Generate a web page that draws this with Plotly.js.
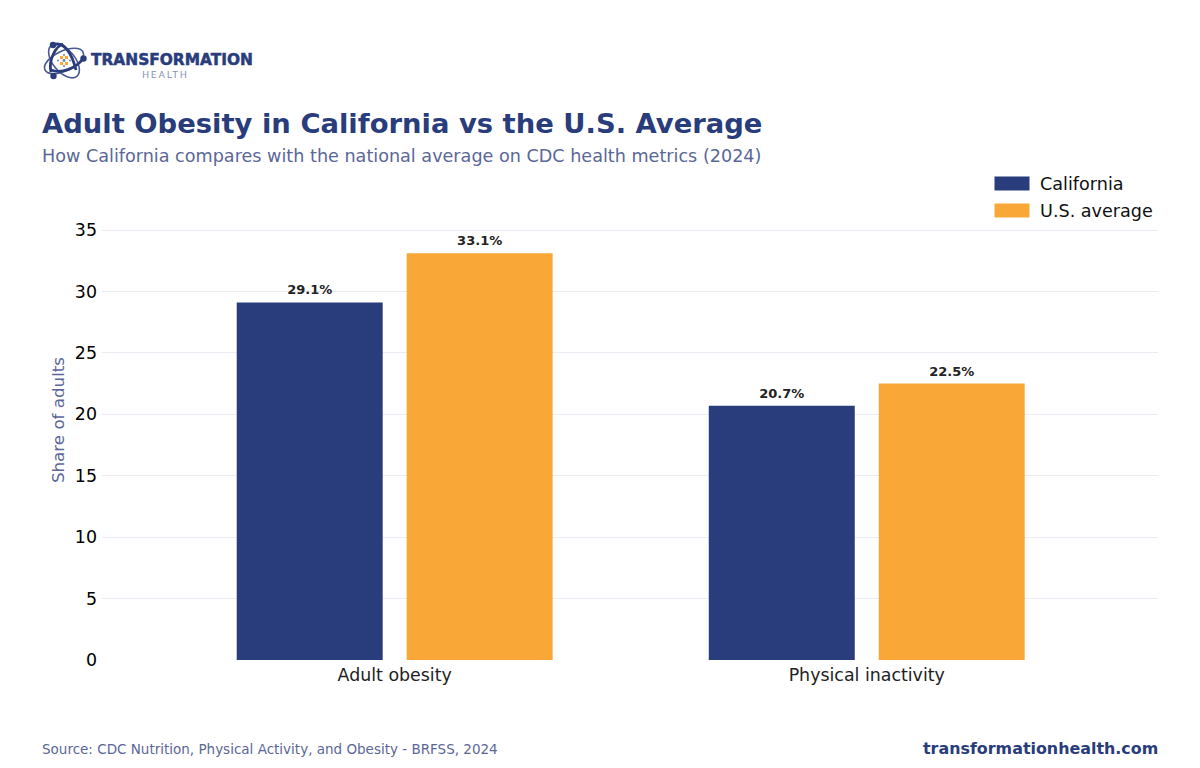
<!DOCTYPE html>
<html><head><meta charset="utf-8">
<script src="https://cdn.plot.ly/plotly-3.0.1.min.js"></script>
<style>html,body{margin:0;padding:0;background:#fff}#c{width:1200px;height:768px;position:relative}
#logo{position:absolute;left:40px;top:38px;width:50px;height:46px;z-index:5;pointer-events:none}</style>
</head><body><div id="c">
<svg id="logo" viewBox="0 0 50 46">
<g fill="none" stroke="#4a5a91" stroke-width="1.6">
<ellipse cx="24" cy="23" rx="21" ry="10" transform="rotate(-25 24 23)" />
<ellipse cx="24" cy="23" rx="20" ry="11" transform="rotate(50 24 23)" />
</g>
<g fill="none" stroke="#2a3c7b" stroke-width="2.8">
<path d="M13 7 C24 2 32 16 36 32"/><path d="M11 34 C8 22 16 8 23 6"/><path d="M11 32 C22 36 36 30 43 21"/>
</g>
<circle cx="13" cy="7" r="3.2" fill="#2a3c7b"/><circle cx="13.5" cy="38" r="3.2" fill="#2a3c7b"/><circle cx="43.5" cy="20.5" r="3.2" fill="#2a3c7b"/>
<g fill="#f9a737"><rect x="20" y="18" width="3" height="3"/><rect x="25" y="18" width="3" height="3"/><rect x="20" y="24" width="3" height="3"/><rect x="25" y="24" width="3" height="3"/></g>
<g fill="#6f7fae"><circle cx="24" cy="22.5" r="1.4"/><circle cx="18" cy="22.5" r="1"/><circle cx="30" cy="22.5" r="1"/><circle cx="24" cy="17" r="1"/><circle cx="24" cy="28" r="1"/></g>
</svg>
<div id="chart" style="width:1200px;height:768px"></div></div>
<script>
const categories = ["Adult obesity", "Physical inactivity"];
const california = [29.1, 20.7];
const usAverage = [33.1, 22.5];
const yTicks = [0, 5, 10, 15, 20, 25, 30, 35];
const navy = "#293c7b", orange = "#f9a737", muted = "#5b6797";
const fam = "DejaVu Sans, sans-serif";
const labelOf = a => a.map(v => v.toFixed(1) + "%");
const bar = (name, y, color) => ({type:"bar", name, x:categories, y, marker:{color},
  text:labelOf(y), textposition:"outside", cliponaxis:false, textangle:0,
  textfont:{family:fam, size:13, color:"#222222", weight:700}, hoverinfo:"skip"});
const pl=102, pr=42, pt=180, pb=108, pw=1200-pl-pr, ph=768-pt-pb;
const note = (text,x,y,size,color,extra) => Object.assign({xref:"paper",yref:"paper",
  x:(x-pl)/pw, y:1-(y-pt)/ph, text, showarrow:false, xanchor:"left", yanchor:"middle", xshift:-2,
  font:{family:fam,size,color}},extra||{});
const layout = {
  width:1200, height:768, paper_bgcolor:"#fff", plot_bgcolor:"#fff",
  margin:{l:pl,r:pr,t:pt,b:pb,pad:0},
  barmode:"group", bargap:0.28, bargroupgap:0.141,
  font:{family:fam,color:"#000"},
  showlegend:true,
  legend:{x:1.0,y:1.03,xanchor:"right",yanchor:"top",font:{family:fam,size:17.6,color:"#111"},bgcolor:"rgba(0,0,0,0)",itemwidth:46},
  xaxis:{type:"category",range:[-0.62,1.617],showgrid:false,zeroline:false,showline:false,ticks:"",ticklabelstandoff:3,
    tickfont:{family:fam,size:17.4,color:"#222222"},automargin:false},
  yaxis:{range:[0,39.07],tickvals:yTicks,ticktext:yTicks.map(String),showgrid:true,gridcolor:"#e9ecf2",gridwidth:1,zeroline:false,showline:false,ticks:"",ticklabelstandoff:4,
    tickfont:{family:fam,size:17.4,color:"#000"},
    title:{text:"Share of adults",font:{family:fam,size:16.7,color:muted},standoff:6},automargin:false},
  annotations:[
    note("<b>Adult Obesity in California vs the U.S. Average</b>",42,124,27.4,navy),
    note("How California compares with the national average on CDC health metrics (2024)",42,155.5,17.6,muted),
    note("Source: CDC Nutrition, Physical Activity, and Obesity - BRFSS, 2024",42,749,13.5,muted),
    note("<b>transformationhealth.com</b>",1158,748,15.9,navy,{xanchor:"right",xshift:2}),
    note("<b>TRANSFORMATION</b>",91,60,15.4,navy),
    note("HEALTH",147,74.5,9.5,"#8a94b8")
  ]
};
Plotly.newPlot("chart",[bar("California",california,navy),bar("U.S. average",usAverage,orange)],layout,{displayModeBar:false,responsive:false}).then(gd=>{
  // data labels sit a little higher above the bars
  gd.querySelectorAll('.bartext').forEach(t=>{t.setAttribute('transform',(t.getAttribute('transform')||'')+' translate(0,-2)');});
  // wide rectangular legend swatches and row spacing
  gd.querySelectorAll('.legend .legendpoints path').forEach(p=>{p.setAttribute('d','M-17.5,-7H17.5V7H-17.5Z');});
  const rows=gd.querySelectorAll('.legend .traces');
  if(rows[1]){const m=/translate\(([^,]+),\s*([^)]+)\)/.exec(rows[1].getAttribute('transform')); if(m) rows[1].setAttribute('transform',`translate(${m[1]},${parseFloat(m[2])+1})`);}
  // letter-spaced wordmark
  gd.querySelectorAll('.annotation-text').forEach(t=>{
    if(t.textContent==='HEALTH') t.style.letterSpacing='1.7px';
    if(t.textContent==='TRANSFORMATION'){t.style.stroke=navy;t.style.strokeWidth='0.5px';}
  });
});
</script></body></html>
